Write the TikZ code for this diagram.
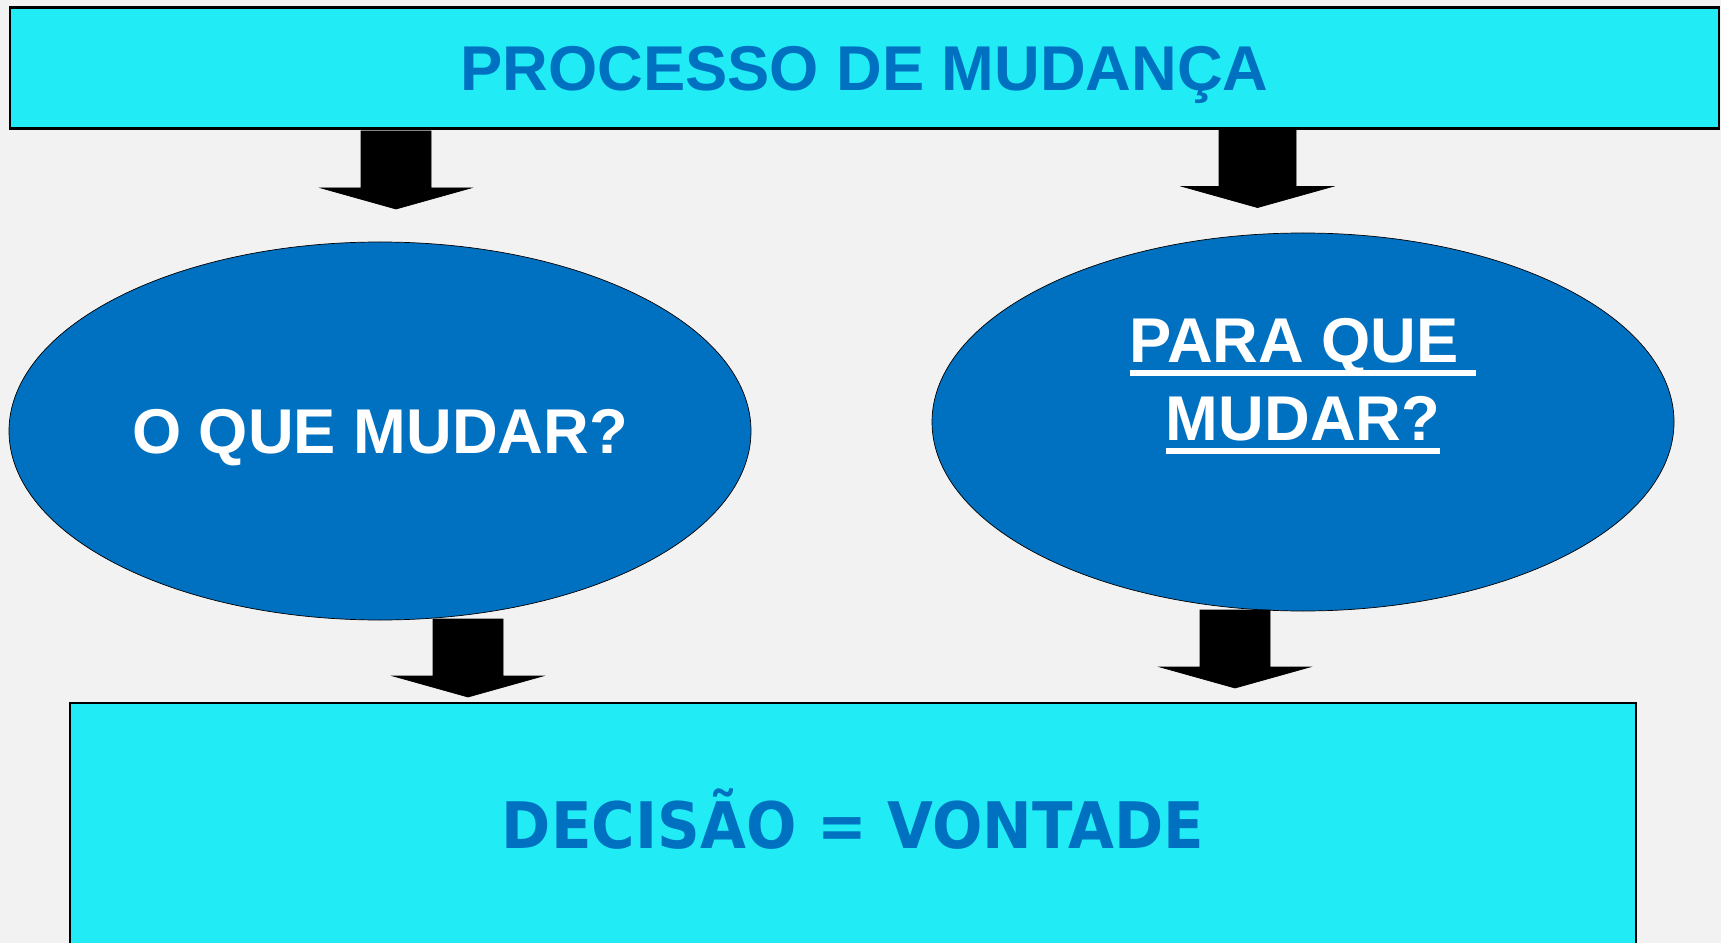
\documentclass[tikz,border=0pt]{standalone}
\usepackage{fontspec}
\setmainfont{Liberation Sans}
\newfontfamily\verdanalike{DejaVu Sans}[FakeStretch=0.925]
\usetikzlibrary{shapes.geometric, positioning, calc}
\definecolor{bg_grey}{RGB}{242, 242, 242}
\definecolor{box_cyan}{RGB}{33, 235, 245}
\definecolor{deep_blue}{RGB}{0, 112, 192}

% underline with a thick bar
\newcommand{\ulbox}[1]{\setbox0\hbox{#1}\rlap{\rule[-0.27cm]{\wd0}{0.134cm}}\box0}

\begin{document}
\begin{tikzpicture}[
    % Node styles
    banner/.style={
        rectangle,
        draw=black,
        fill=box_cyan,
        text=deep_blue,
        line width=1.2pt,
        minimum width=#1,
        text height=25.8pt,
        text depth=0pt,
        align=center,
        font=\bfseries\fontsize{36}{43}\selectfont
    },
    question/.style={
        ellipse,
        draw=black,
        fill=deep_blue,
        text=white,
        thin,
        minimum width=14.84cm,
        minimum height=7.56cm,
        inner sep=0pt,
        align=center,
        font=\bfseries\fontsize{36}{43}\selectfont
    },
    blockarrow/.pic={
        \filldraw[black, thin] (-#1,0) -- (-#1,-1.14) -- (-1.5,-1.14) -- (0,-1.56)
            -- (1.5,-1.14) -- (#1,-1.14) -- (#1,0) -- cycle;
    }
]

\fill[bg_grey] (0,0) rectangle (34.42,-18.86);
\clip (0,0) rectangle (34.42,-18.86);

% Position nodes
\node[banner=34.18cm, minimum height=2.42cm] (process) at (17.29,-1.36) {PROCESSO DE MUDANÇA};

\node[question, text height=25.8pt, text depth=0pt] (what) at (7.6,-8.62) {O QUE MUDAR?};

\node[question] (why) at (26.06,-8.44) {};
\node[text=white, align=center, font=\bfseries\fontsize{36}{44.5}\selectfont] (whytext) at ($(why.center)+(0,0.71)$) {\ulbox{PARA QUE\ }\\ \ulbox{MUDAR?}};

\node[banner=31.32cm, minimum height=4.88cm, text height=26.5pt, font=\verdanalike\bfseries\fontsize{36.5}{43}\selectfont] (decision) at (17.06,-16.5) {DECISÃO = VONTADE};

% block arrows
\coordinate (a1) at (7.92,-2.62);
\coordinate (a2) at (process.south -| 25.15,0);
\coordinate (a3) at (9.36,-12.38);
\coordinate (a4) at (24.7,-12.2);

\pic at (a1) {blockarrow=0.7};
\pic at (a2) {blockarrow=0.77};
\pic at (a3) {blockarrow=0.7};
\pic at (a4) {blockarrow=0.7};

\end{tikzpicture}
\end{document}
